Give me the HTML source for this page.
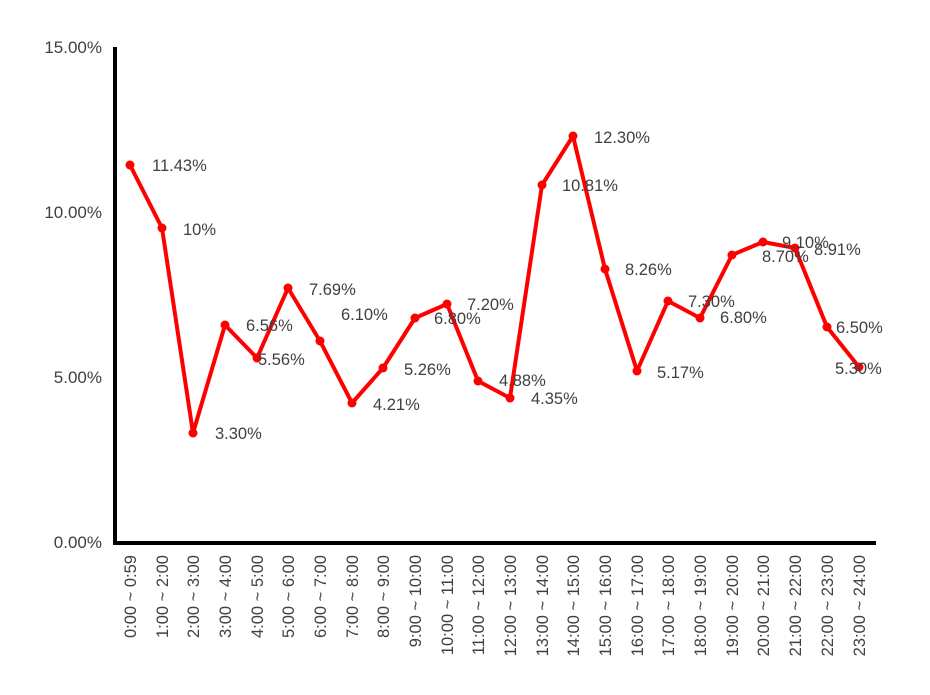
<!DOCTYPE html>
<html><head><meta charset="utf-8"><style>
html,body{margin:0;padding:0;background:#fff;}
svg{display:block;font-family:"Liberation Sans",sans-serif;}
</style></head><body>
<svg width="930" height="695" viewBox="0 0 930 695" xmlns="http://www.w3.org/2000/svg">
<g font-size="17" fill="#404040" text-anchor="end">
<text x="102" y="53">15.00%</text>
<text x="102" y="218">10.00%</text>
<text x="102" y="383">5.00%</text>
<text x="102" y="548">0.00%</text>
</g>
<path d="M115,47 V543 H876" fill="none" stroke="#000" stroke-width="4"/>
<polyline fill="none" stroke="#ff0000" stroke-width="4" stroke-linejoin="round" points="130,165 162,228 193,433 225,325 257,358 288,288 320,341 352,403 383,368 415,318 447,304 478,381 510,398 542,185 573,136 605,269 637,371 668,301 700,318 732,255 763,242 795,248 827,327 859,367"/>
<g fill="#ff0000">
<circle cx="130" cy="165" r="4.5"/><circle cx="162" cy="228" r="4.5"/><circle cx="193" cy="433" r="4.5"/><circle cx="225" cy="325" r="4.5"/><circle cx="257" cy="358" r="4.5"/><circle cx="288" cy="288" r="4.5"/><circle cx="320" cy="341" r="4.5"/><circle cx="352" cy="403" r="4.5"/><circle cx="383" cy="368" r="4.5"/><circle cx="415" cy="318" r="4.5"/><circle cx="447" cy="304" r="4.5"/><circle cx="478" cy="381" r="4.5"/><circle cx="510" cy="398" r="4.5"/><circle cx="542" cy="185" r="4.5"/><circle cx="573" cy="136" r="4.5"/><circle cx="605" cy="269" r="4.5"/><circle cx="637" cy="371" r="4.5"/><circle cx="668" cy="301" r="4.5"/><circle cx="700" cy="318" r="4.5"/><circle cx="732" cy="255" r="4.5"/><circle cx="763" cy="242" r="4.5"/><circle cx="795" cy="248" r="4.5"/><circle cx="827" cy="327" r="4.5"/><circle cx="859" cy="367" r="4.5"/>
</g>
<g font-size="16.5" fill="#404040">
<text x="152" y="171">11.43%</text>
<text x="183" y="235">10%</text>
<text x="215" y="439">3.30%</text>
<text x="246" y="331">6.56%</text>
<text x="258" y="365">5.56%</text>
<text x="309" y="295">7.69%</text>
<text x="341" y="320">6.10%</text>
<text x="373" y="410">4.21%</text>
<text x="404" y="375">5.26%</text>
<text x="434" y="324">6.80%</text>
<text x="467" y="310">7.20%</text>
<text x="499" y="386">4.88%</text>
<text x="531" y="404">4.35%</text>
<text x="562" y="191">10.81%</text>
<text x="594" y="143">12.30%</text>
<text x="625" y="275">8.26%</text>
<text x="657" y="378">5.17%</text>
<text x="688" y="307">7.30%</text>
<text x="720" y="323">6.80%</text>
<text x="762" y="262">8.70%</text>
<text x="782" y="248">9.10%</text>
<text x="814" y="255">8.91%</text>
<text x="836" y="333">6.50%</text>
<text x="835" y="374">5.30%</text>
</g>
<g font-size="16.5" fill="#404040" text-anchor="end">
<text transform="translate(136,555) rotate(-90)">0:00 ~ 0:59</text>
<text transform="translate(168,555) rotate(-90)">1:00 ~ 2:00</text>
<text transform="translate(199,555) rotate(-90)">2:00 ~ 3:00</text>
<text transform="translate(231,555) rotate(-90)">3:00 ~ 4:00</text>
<text transform="translate(263,555) rotate(-90)">4:00 ~ 5:00</text>
<text transform="translate(294,555) rotate(-90)">5:00 ~ 6:00</text>
<text transform="translate(326,555) rotate(-90)">6:00 ~ 7:00</text>
<text transform="translate(358,555) rotate(-90)">7:00 ~ 8:00</text>
<text transform="translate(389,555) rotate(-90)">8:00 ~ 9:00</text>
<text transform="translate(421,555) rotate(-90)">9:00 ~ 10:00</text>
<text transform="translate(453,555) rotate(-90)">10:00 ~ 11:00</text>
<text transform="translate(484,555) rotate(-90)">11:00 ~ 12:00</text>
<text transform="translate(516,555) rotate(-90)">12:00 ~ 13:00</text>
<text transform="translate(548,555) rotate(-90)">13:00 ~ 14:00</text>
<text transform="translate(579,555) rotate(-90)">14:00 ~ 15:00</text>
<text transform="translate(611,555) rotate(-90)">15:00 ~ 16:00</text>
<text transform="translate(643,555) rotate(-90)">16:00 ~ 17:00</text>
<text transform="translate(674,555) rotate(-90)">17:00 ~ 18:00</text>
<text transform="translate(706,555) rotate(-90)">18:00 ~ 19:00</text>
<text transform="translate(738,555) rotate(-90)">19:00 ~ 20:00</text>
<text transform="translate(769,555) rotate(-90)">20:00 ~ 21:00</text>
<text transform="translate(801,555) rotate(-90)">21:00 ~ 22:00</text>
<text transform="translate(833,555) rotate(-90)">22:00 ~ 23:00</text>
<text transform="translate(865,555) rotate(-90)">23:00 ~ 24:00</text>
</g>
</svg>
</body></html>
